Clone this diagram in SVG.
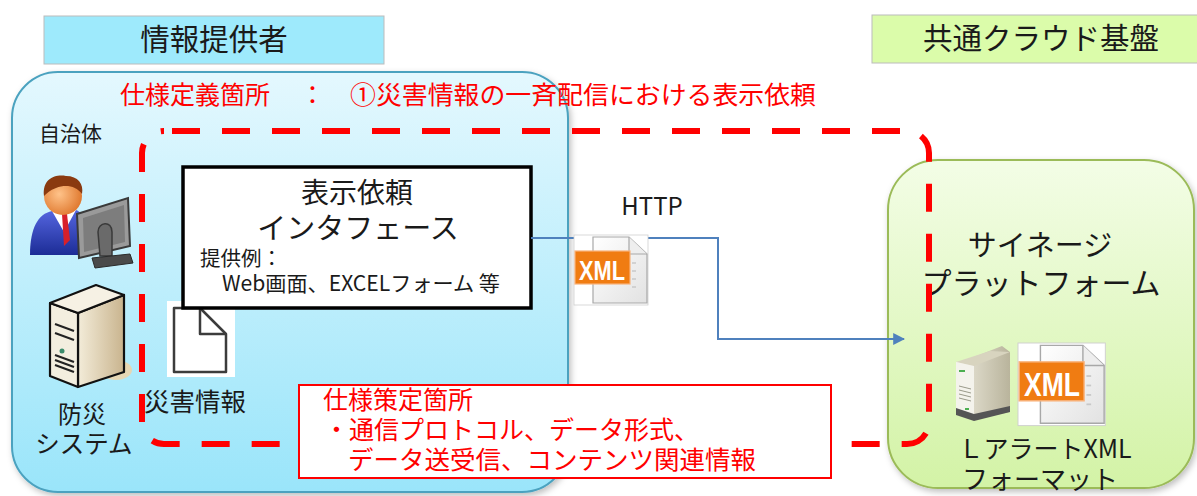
<svg xmlns="http://www.w3.org/2000/svg" width="1197" height="496" viewBox="0 0 1197 496">
  <style>
    .jp { font-family: "Noto Sans CJK JP", "Noto Sans", sans-serif; }
    .blk { fill: #1a1a1a; }
    .red { fill: #ff0000; }
    .hdr { font-size: 29.5px; text-anchor: middle; }
    .xmltxt { font-family: "Liberation Sans", "DejaVu Sans", sans-serif; font-weight: bold; fill: #ffffff; }
  </style>
  <defs>
    <linearGradient id="gBlue" x1="0" y1="0" x2="0" y2="1">
      <stop offset="0" stop-color="#e4f8fe"/>
      <stop offset="1" stop-color="#9ae5fa"/>
    </linearGradient>
    <linearGradient id="gGreen" x1="0" y1="0" x2="0" y2="1">
      <stop offset="0" stop-color="#f3fde6"/>
      <stop offset="1" stop-color="#d3f3a6"/>
    </linearGradient>
    <linearGradient id="gPage" x1="0" y1="0" x2="1" y2="1">
      <stop offset="0" stop-color="#ffffff"/>
      <stop offset="1" stop-color="#e2e2e2"/>
    </linearGradient>
    <linearGradient id="gSuit" x1="0" y1="0" x2="0" y2="1">
      <stop offset="0" stop-color="#5566e0"/>
      <stop offset="1" stop-color="#1c2c96"/>
    </linearGradient>
    <radialGradient id="gHead" cx="0.4" cy="0.45" r="0.6">
      <stop offset="0" stop-color="#ffc38a"/>
      <stop offset="1" stop-color="#e07a30"/>
    </radialGradient>
    <linearGradient id="gTower" x1="0" y1="0" x2="1" y2="0">
      <stop offset="0" stop-color="#f3ecd9"/>
      <stop offset="1" stop-color="#c9b48e"/>
    </linearGradient>
    <linearGradient id="gTowerS" x1="0" y1="0" x2="1" y2="0">
      <stop offset="0" stop-color="#ece9dc"/>
      <stop offset="1" stop-color="#b9b49c"/>
    </linearGradient>
    <filter id="shadow" x="-5%" y="-5%" width="110%" height="115%">
      <feDropShadow dx="2" dy="3" stdDeviation="3" flood-color="#000" flood-opacity="0.25"/>
    </filter>
    <marker id="arrow" viewBox="0 0 10 10" refX="9" refY="5" markerWidth="6" markerHeight="6" orient="auto">
      <path d="M0,0 L10,5 L0,10 z" fill="#4f81bd"/>
    </marker>
    <!-- XML document icon, drawn at 74x70 -->
    <g id="xmlDoc">
      <rect x="0" y="0" width="74" height="70" fill="#ffffff" stroke="#cfcfcf" stroke-width="0.8"/>
      <path d="M19,2 H55 L73,19 V68 H19 Z" fill="url(#gPage)" stroke="#a8a8a8" stroke-width="1.2"/>
      <path d="M55,2 V19 H73" fill="#eeeeee" stroke="#a8a8a8" stroke-width="1.2"/>
      <g stroke="#c8c8c8" stroke-width="1.5">
        <line x1="58" y1="28" x2="62" y2="28"/>
        <line x1="58" y1="36" x2="62" y2="36"/>
        <line x1="58" y1="44" x2="62" y2="44"/>
        <line x1="58" y1="52" x2="62" y2="52"/>
      </g>
      <rect x="1" y="16" width="55" height="33" fill="#f07c12" stroke="#f9b27a" stroke-width="1.2"/>
    </g>
  </defs>

  <!-- column headers -->
  <g id="header-provider">
    <rect x="44" y="16" width="340" height="48" fill="#9eeafc" stroke="#bcbcbc" stroke-width="1"/>
    <text x="214" y="50" class="jp blk hdr">情報提供者</text>
  </g>
  <g id="header-cloud">
    <rect x="872" y="15" width="330" height="48" fill="#dbfcaa" stroke="#bcbcbc" stroke-width="1"/>
    <text x="1041" y="49" class="jp blk hdr">共通クラウド基盤</text>
  </g>

  <!-- provider area -->
  <g id="provider-area">
    <rect x="12" y="72" width="556" height="420" rx="46" fill="url(#gBlue)" stroke="#4ba2bf" stroke-width="2" filter="url(#shadow)"/>
    <text x="39" y="141" class="jp blk" font-size="21">自治体</text>
  </g>

  <!-- cloud platform area -->
  <g id="cloud-area">
    <rect x="888" y="160" width="306" height="328" rx="50" fill="url(#gGreen)" stroke="#9bbb59" stroke-width="2" filter="url(#shadow)"/>
    <text x="1040" y="256" class="jp blk" font-size="29" text-anchor="middle">サイネージ</text>
    <text x="1041" y="294" class="jp blk" font-size="30" text-anchor="middle">プラットフォーム</text>
  </g>

  <!-- specification scope label -->
  <g id="scope-label">
    <text x="120" y="104" class="jp red" font-size="25">仕様定義箇所</text>
    <text x="300" y="104" class="jp red" font-size="25">：</text>
    <text x="350" y="104" class="jp red" font-size="25.5" textLength="466" lengthAdjust="spacingAndGlyphs">①災害情報の一斉配信における表示依頼</text>
  </g>

  <!-- specification scope boundary -->
  <g id="scope-boundary">
    <rect x="142" y="131" width="787" height="313" rx="22" fill="none" stroke="#ff0000" stroke-width="6" stroke-dasharray="28 22" stroke-dashoffset="-8"/>
  </g>

  <!-- operator at workstation -->
  <g id="operator">
    <path d="M30,255 C30,228 38,214 52,211 L76,210 C86,214 90,228 90,255 Z" fill="url(#gSuit)"/>
    <path d="M52,211 L64,232 L76,210 Z" fill="#ffffff"/>
    <path d="M62,214 L67,214 L70,240 L64,246 Z" fill="#d8202a"/>
    <circle cx="63" cy="196" r="19" fill="url(#gHead)"/>
    <path d="M44,196 C42,178 56,174 66,176 C78,176 84,184 82,194 C76,186 66,184 56,188 C50,190 46,194 44,196 Z" fill="#8a3a10"/>
    <path d="M77,214 L128,198 L130,246 L79,258 Z" fill="#9a9a9a" stroke="#3a3a3a" stroke-width="2"/>
    <path d="M83,218 L124,205 L125,242 L84,252 Z" fill="#7d7d7d"/>
    <path d="M98,232 C98,222 112,220 112,232 L112,256 L100,256 Z" fill="#6a6a6a" stroke="#3a3a3a" stroke-width="1.5"/>
    <path d="M92,258 L130,254 L133,263 L95,268 Z" fill="#4a4a4a" stroke="#2a2a2a" stroke-width="1"/>
  </g>

  <!-- disaster management server -->
  <g id="disaster-system">
    <ellipse cx="116" cy="370" rx="16" ry="10" fill="#e6d7b4"/>
    <path d="M78,313 L124,295 L124,372 L78,387 Z" fill="url(#gTower)" stroke="#111" stroke-width="2.2" stroke-linejoin="round"/>
    <path d="M50,303 L78,313 L78,387 L50,376 Z" fill="#f3eedf" stroke="#111" stroke-width="2.2" stroke-linejoin="round"/>
    <path d="M50,303 L96,285 L124,295 L78,313 Z" fill="#f6f1e4" stroke="#111" stroke-width="2.2" stroke-linejoin="round"/>
    <g stroke="#222" stroke-width="2">
      <line x1="55" y1="324" x2="74" y2="331"/>
      <line x1="55" y1="333" x2="74" y2="340"/>
      <line x1="55" y1="355" x2="74" y2="362"/>
      <line x1="55" y1="360" x2="74" y2="367"/>
      <line x1="55" y1="365" x2="74" y2="372"/>
    </g>
    <circle cx="62" cy="351" r="2.5" fill="#3c8c6c"/>
    <text x="82" y="423" class="jp blk" font-size="24" text-anchor="middle">防災</text>
    <text x="84" y="453" class="jp blk" font-size="24.5" text-anchor="middle">システム</text>
  </g>

  <!-- disaster information document -->
  <g id="disaster-info">
    <rect x="167" y="301" width="68" height="76" fill="#ffffff"/>
    <path d="M174,308 H200 L226,334 V372 H174 Z" fill="#ffffff" stroke="#3c3c3c" stroke-width="2.5" stroke-linejoin="round"/>
    <path d="M200,308 V334 H226" fill="none" stroke="#3c3c3c" stroke-width="2.5" stroke-linejoin="round"/>
    <text x="144" y="411" class="jp blk" font-size="25.5">災害情報</text>
  </g>

  <!-- display request interface -->
  <g id="request-interface">
    <rect x="183" y="167" width="348" height="141" fill="#ffffff" stroke="#000000" stroke-width="3.5"/>
    <text x="357" y="203" class="jp blk" font-size="28" text-anchor="middle">表示依頼</text>
    <text x="358" y="239" class="jp blk" font-size="29" text-anchor="middle">インタフェース</text>
    <text x="200" y="266" class="jp blk" font-size="20.5">提供例：</text>
    <text x="222" y="291" class="jp blk" font-size="21" textLength="278" lengthAdjust="spacingAndGlyphs">Web画面、EXCELフォーム 等</text>
  </g>

  <!-- connectors -->
  <g id="connectors">
    <path d="M531,238 H718 V339 H904" fill="none" stroke="#4f81bd" stroke-width="2" marker-end="url(#arrow)"/>
  </g>

  <!-- transmitted XML -->
  <g id="http-xml">
    <text x="652" y="215" class="jp blk" font-size="24" text-anchor="middle">HTTP</text>
    <use href="#xmlDoc" x="574" y="235"/>
    <text x="602" y="280" class="xmltxt" font-size="27" text-anchor="middle" textLength="46" lengthAdjust="spacingAndGlyphs">XML</text>
  </g>

  <!-- L-alert XML format -->
  <g id="lalert-format">
    <path d="M966,360 L1002,346 L1010,352 L1010,412 L972,420 L956,414 L956,362 Z" fill="url(#gTowerS)"/>
    <path d="M956,362 L990,351 L1010,352 L974,366 Z" fill="#d8d4bf"/>
    <path d="M956,362 L974,366 L974,420 L956,414 Z" fill="#f4f3ec"/>
    <path d="M956,408 L974,414 L1010,406 L1010,412 L974,421 L956,415 Z" fill="#555"/>
    <rect x="959" y="370" width="6" height="2" fill="#4caf50"/>
    <g stroke="#9a9a8a" stroke-width="1">
      <line x1="959" y1="386" x2="971" y2="389"/>
      <line x1="959" y1="390" x2="971" y2="393"/>
      <line x1="959" y1="394" x2="971" y2="397"/>
      <line x1="959" y1="398" x2="971" y2="401"/>
    </g>
    <rect x="965" y="408" width="4" height="2" fill="#4caf50"/>
    <use href="#xmlDoc" transform="translate(1018,343) scale(1.18)"/>
    <text x="1052" y="396" class="xmltxt" font-size="33" text-anchor="middle" textLength="56" lengthAdjust="spacingAndGlyphs">XML</text>
    <text x="1045" y="458" class="jp blk" font-size="25" text-anchor="middle">ＬアラートXML</text>
    <text x="1040" y="489" class="jp blk" font-size="26" text-anchor="middle">フォーマット</text>
  </g>

  <!-- specification note -->
  <g id="spec-note">
    <rect x="299" y="385" width="532" height="93" fill="#ffffff" stroke="#ff0000" stroke-width="2"/>
    <text x="323" y="409" class="jp red" font-size="25">仕様策定箇所</text>
    <text x="324" y="439" class="jp red" font-size="25">・通信プロトコル、データ形式、</text>
    <text x="348" y="469" class="jp red" font-size="25.5">データ送受信、コンテンツ関連情報</text>
  </g>
</svg>
